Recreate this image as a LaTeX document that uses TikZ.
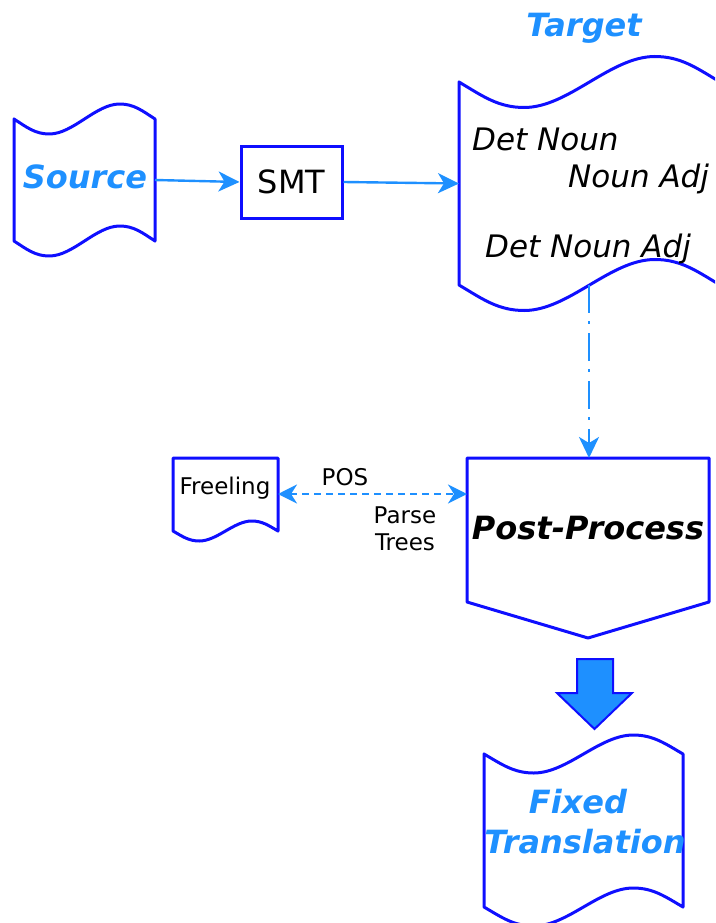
\documentclass[tikz,border=0pt]{standalone}
\usepackage{fontspec}
\setmainfont{DejaVu Sans}[ItalicFont={DejaVu Sans Oblique},BoldFont={DejaVu Sans Bold},BoldItalicFont={DejaVu Sans Bold Oblique}]
\usetikzlibrary{arrows.meta}
\definecolor{lineblue}{RGB}{15,15,255}
\definecolor{arrowblue}{RGB}{30,144,255}
\newcommand\bigfont{\fontsize{32}{36}\selectfont}
\newcommand\midfont{\fontsize{31}{36}\selectfont}
\newcommand\smallfont{\fontsize{23}{27}\selectfont}
% tape outline: #1 L, #2 R, #3 ytop, #4 ybot, #5 amplitude
\newcommand\tapeshape[5]{%
  \pgfmathsetmacro\tw{#2-#1}%
  \pgfmathsetmacro\xT{#1+0.25*\tw}%
  \pgfmathsetmacro\xC{#1+0.75*\tw}%
  \pgfmathsetmacro\xa{#1+0.09*\tw}%
  \pgfmathsetmacro\xb{\xT-0.1*\tw}%
  \pgfmathsetmacro\xc{\xT+0.17*\tw}%
  \pgfmathsetmacro\xd{\xC-0.17*\tw}%
  \pgfmathsetmacro\xe{\xC+0.1*\tw}%
  \pgfmathsetmacro\xf{#2-0.09*\tw}%
  \pgfmathsetmacro\ytA{#3+#5}\pgfmathsetmacro\ytB{#3-#5}%
  \pgfmathsetmacro\ytH{#3+0.55*#5}\pgfmathsetmacro\ytG{#3-0.55*#5}%
  \pgfmathsetmacro\ybA{#4+#5}\pgfmathsetmacro\ybB{#4-#5}%
  \pgfmathsetmacro\ybH{#4+0.55*#5}\pgfmathsetmacro\ybG{#4-0.55*#5}%
  \draw[outline] (#1,#3) .. controls (\xa,\ytH) and (\xb,\ytA) .. (\xT,\ytA)
    .. controls (\xc,\ytA) and (\xd,\ytB) .. (\xC,\ytB)
    .. controls (\xe,\ytB) and (\xf,\ytG) .. (#2,#3)
    -- (#2,#4)
    .. controls (\xf,\ybG) and (\xe,\ybB) .. (\xC,\ybB)
    .. controls (\xd,\ybB) and (\xc,\ybA) .. (\xT,\ybA)
    .. controls (\xb,\ybA) and (\xa,\ybH) .. (#1,#4) -- cycle;}
\tikzset{
  outline/.style={draw=lineblue, line width=3pt, line join=round},
  conn/.style={draw=arrowblue, line width=2.4pt},
  tip/.style={-{Stealth[length=21pt,width=20pt,inset=6pt]}},
  twotips/.style={{Stealth[length=19pt,width=19pt,inset=6pt]}-{Stealth[length=19pt,width=19pt,inset=6pt]}},
  area/.style={inner sep=0pt, outer sep=0pt},
  bluetitle/.style={text=arrowblue, font=\bigfont\bfseries\itshape, inner sep=0pt},
  tagtext/.style={font=\midfont\itshape, inner sep=0pt, anchor=base west},
  plain/.style={font=\smallfont, inner sep=0pt},
}
\begin{document}
\begin{tikzpicture}[x=1pt,y=-1pt]
\useasboundingbox (0,0) rectangle (715,923);
\clip (0,0) rectangle (715,923);

% Source
\tapeshape{14}{155}{119}{241}{15}
\node[area, minimum width=141pt, minimum height=122pt] (source) at (84.5,180) {};
\node[bluetitle] (sourcetext) at (85,177) {Source};

% SMT
\node[draw=lineblue, line width=3pt, minimum width=101pt, minimum height=72pt, inner sep=0pt, font=\bigfont] (smt) at (291.5,182) {SMT};

% Target
\tapeshape{459}{720}{82}{285}{25.5}
\node[area, minimum width=261pt, minimum height=203pt] (target) at (589.5,183.5) {};
\node[bluetitle] (targettitle) at (584,28) {Target};
\node[tagtext] (t1) at (472,150) {Det Noun};
\node[tagtext] (t2) at (568,187) {Noun Adj};
\node[tagtext] (t3) at (485,257) {Det Noun Adj};
\coordinate (tgtbot) at (589,285);

% Post-Process
\node[area, minimum width=242pt, minimum height=144pt] (post) at (588,530) {};
\coordinate (posttip) at (588,638);
\draw[outline] (post.north west) -- (post.north east) -- (post.south east) -- (posttip) -- (post.south west) -- cycle;
\node[font=\bigfont\bfseries\itshape, inner sep=0pt] (posttext) at (588,528) {Post-Process};

% Freeling
\node[area, minimum width=105pt, minimum height=72pt] (freeling) at (225.5,494) {};
\draw[outline] (173,458) -- (278,458) -- (278,531)
  .. controls (268.5,525.5) and (262.3,521) .. (251.8,521)
  .. controls (233.9,521) and (217.1,541) .. (199.3,541)
  .. controls (188.8,541) and (182.5,536.5) .. (173,531) -- cycle;
\node[plain] (freelingtext) at (225,488) {Freeling};

% connectors
\draw[conn, tip] (source.east) -- (smt.west);
\draw[conn, tip] (smt.east) -- (target.west);
\draw[conn, tip, dash pattern=on 28pt off 8pt on 3pt off 9pt] (tgtbot) -- (tgtbot |- post.north);
\draw[conn, twotips, dash pattern=on 7pt off 5pt] (freeling.east) -- (freeling.east -| post.west);
\node[plain] (pos) at (345,477) {POS};
\node[plain, align=center] (parse) at (405,529) {Parse\\Trees};

% block arrow
\draw[fill=arrowblue, draw=lineblue, line width=2pt, line join=miter] (577,659) -- (613,659) -- (613,693) -- (632,693) -- (594.5,729) -- (557,693) -- (577,693) -- cycle;

% Fixed Translation
\tapeshape{484}{683}{754}{907}{19}
\node[area, minimum width=199pt, minimum height=153pt] (fixed) at (583.5,830.5) {};
\node[bluetitle] (fixedtext1) at (578,802) {Fixed};
\node[bluetitle] (fixedtext2) at (585,842) {Translation};
\end{tikzpicture}
\end{document}
